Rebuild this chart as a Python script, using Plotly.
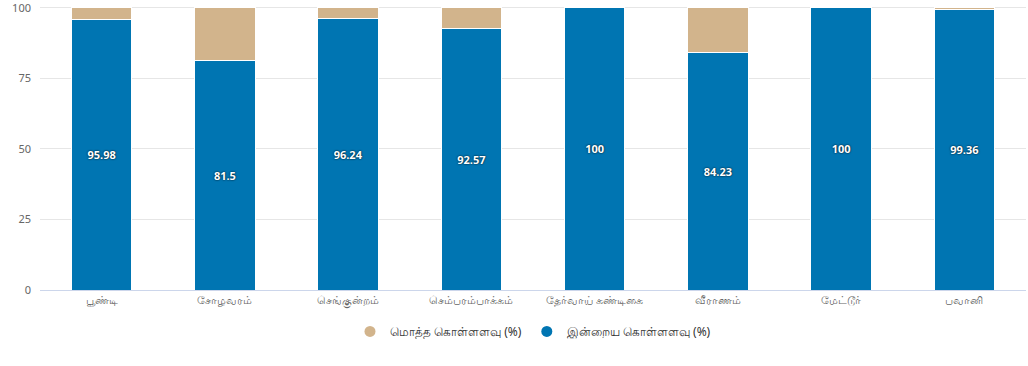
import plotly.graph_objects as go

categories = ["பூண்டி", "சோழவரம்", "செங்குன்றம்", "செம்பரம்பாக்கம்", "தேர்வாய் கண்டிகை", "வீராணம்", "மேட்டூர்", "பவானி"]
today_pct = [95.98, 81.5, 96.24, 92.57, 100, 84.23, 100, 99.36]
total_pct = [round(100 - v, 2) for v in today_pct]
series_names = ["மொத்த கொள்ளளவு (%)", "இன்றைய கொள்ளளவு (%)"]
y_ticks = [0, 25, 50, 75, 100]

BLUE = "#0075B2"
TAN = "#D2B48C"

fig = go.Figure()
fig.add_trace(go.Bar(
    x=categories, y=today_pct, name=series_names[1], marker=dict(color=BLUE, line=dict(color="#ffffff", width=1)),
    text=[f"{v:g}" for v in today_pct], textposition="inside", insidetextanchor="middle",
    textfont=dict(color="#ffffff", size=11, family="Open Sans, Arial", weight="bold", shadow="0px 0px 2px #000000"),
    showlegend=False, hoverinfo="x+y",
))
fig.add_trace(go.Bar(
    x=categories, y=total_pct, name=series_names[0], marker=dict(color=TAN, line=dict(color="#ffffff", width=1)),
    showlegend=False, hoverinfo="x+y",
))
# legend entries with circle symbols
fig.add_trace(go.Scatter(x=[None], y=[None], mode="markers", name=series_names[0],
                         marker=dict(symbol="circle", size=11, color=TAN)))
fig.add_trace(go.Scatter(x=[None], y=[None], mode="markers", name=series_names[1],
                         marker=dict(symbol="circle", size=11, color=BLUE)))

fig.update_layout(
    width=1028, height=366,
    barmode="stack", bargap=0.51,
    plot_bgcolor="#ffffff", paper_bgcolor="#ffffff",
    margin=dict(l=40, r=2, t=6, b=76),
    font=dict(family="Noto Sans, Lato, Arial", size=11, color="#333333"),
    legend=dict(orientation="h", x=0.5, xanchor="center", y=-0.095, yanchor="top",
                traceorder="normal", font=dict(size=12, color="#333333"), itemwidth=30),
    xaxis=dict(showgrid=False, showline=True, linecolor="#ccd6eb", linewidth=1,
               tickfont=dict(size=11, color="#666666"), ticks=""),
    yaxis=dict(range=[0, 100.7], tickvals=y_ticks, showgrid=True, gridcolor="#e6e6e6",
               zeroline=False, tickfont=dict(size=11, color="#666666"), ticklabelstandoff=8,
               automargin=False, ticklabeloverflow="allow"),
)
fig.write_html("out.html", config={"displayModeBar": False},
               post_script="document.body.style.margin='0';")
